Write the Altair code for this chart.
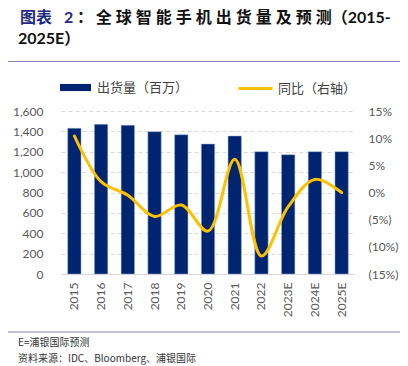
import altair as alt
import pandas as pd

# ---------------- data ----------------
years = ["2015", "2016", "2017", "2018", "2019", "2020", "2021", "2022", "2023E", "2024E", "2025E"]
shipments = [1430, 1469, 1460, 1397, 1367, 1276, 1355, 1201, 1171, 1201, 1201]   # 百万部
yoy = [10.4, 2.0, -0.5, -4.4, -2.3, -7.1, 6.1, -11.7, -2.6, 2.4, 0.0]           # %
left_ticks = [0, 200, 400, 600, 800, 1000, 1200, 1400, 1600]
right_ticks = [-15, -10, -5, 0, 5, 10, 15]

bar_name = "出货量（百万）"
line_name = "同比（右轴）"
title_a = "图表\u20032"
title_b = "：\u2006全\u2005球\u2005智\u2005能\u2005手\u2005机\u2005出\u2005货\u2005量\u2005及\u2005预\u2005测（2015-"
title_c = "2025E）"
note1 = "E=浦银国际预测"
note2 = "资料来源：IDC、Bloomberg、浦银国际"

df = pd.DataFrame({"year": years, "shipments": shipments, "yoy": yoy,
                   "bar": bar_name, "line": line_name})

NAVY = "#002570"
GOLD = "#FFC000"
GRAY = "#595959"
LATIN = "Lato, Noto Sans CJK SC"
CJK = "Noto Sans CJK SC"

W, H = 294, 163

xenc = alt.X("year:N", sort=years, title=None,
             scale=alt.Scale(paddingInner=0.5, paddingOuter=0.25),
             axis=alt.Axis(labelAngle=-90, labelFont=LATIN, labelFontSize=12,
                           labelColor=GRAY, ticks=False, domainColor="#D9D9D9",
                           domainWidth=1, labelPadding=8, grid=False))

bars = alt.Chart(df).mark_bar(stroke="#9FB0D8", strokeWidth=0.5).encode(
    x=xenc,
    y=alt.Y("shipments:Q", title=None,
            scale=alt.Scale(domain=[0, 1600], nice=False),
            axis=alt.Axis(values=left_ticks, labelExpr="format(datum.value, ',')",
                          grid=True, gridDash=[4, 3], gridColor="#D9D9D9",
                          domain=False, ticks=False, labelPadding=18,
                          labelFont=LATIN, labelFontSize=12, labelColor=GRAY)),
    color=alt.Color("bar:N", scale=alt.Scale(domain=[bar_name], range=[NAVY]),
                    legend=alt.Legend(orient="none", legendX=-1, legendY=-39,
                                      title=None, padding=0,
                                      symbolType="M-1,-0.23L1,-0.23L1,0.23L-1,0.23Z",
                                      symbolSize=961, symbolStrokeWidth=0,
                                      labelFont=CJK, labelFontSize=13,
                                      labelColor="#404040", labelOffset=6)),
)

line = alt.Chart(df).mark_line(interpolate="catmull-rom", strokeWidth=3,
                               strokeCap="round").encode(
    x=alt.X("year:N", sort=years),
    y=alt.Y("yoy:Q", title=None,
            scale=alt.Scale(domain=[-15, 15], nice=False),
            axis=alt.Axis(orient="right", values=right_ticks,
                          labelExpr="datum.value < 0 ? '(' + (-datum.value) + '%)' : datum.value + '%'",
                          grid=False, domain=False, ticks=False, labelPadding=13,
                          labelFont=LATIN, labelFontSize=12, labelColor=GRAY)),
    stroke=alt.Stroke("line:N", scale=alt.Scale(domain=[line_name], range=[GOLD]),
                      legend=alt.Legend(orient="none", legendX=176, legendY=-41,
                                        title=None, padding=0,
                                        symbolType="stroke", symbolSize=1156,
                                        symbolStrokeWidth=3,
                                        labelFont=CJK, labelFontSize=13,
                                        labelColor="#404040", labelOffset=4)),
)

one = alt.Data(values=[{}])

def txt(s, x, y, size, color, weight="normal", font=CJK):
    return alt.Chart(one).mark_text(text=s, align="left", baseline="middle",
                                    fontSize=size, font=font, fontWeight=weight,
                                    color=color).encode(x=alt.value(x), y=alt.value(y))

def hline(y):
    return alt.Chart(one).mark_rule(color="#8585B5", strokeWidth=1.2).encode(
        x=alt.value(-53), x2=alt.value(344), y=alt.value(y))

deco = [
    txt(title_a, -41, -93, 16, "#1F2A80", "bold", LATIN),
    txt(title_b, 16, -93, 16, "#111111", "bold", LATIN),
    txt(title_c, -43, -72, 16, "#111111", "bold", LATIN),
    hline(-49.5),
    hline(221),
    txt(note1, -43, 232, 10, "#333333"),
    txt(note2, -43, 248, 10, "#333333"),
]

chart = alt.layer(bars, line, *deco).resolve_scale(
    y="independent", color="independent", stroke="independent"
).properties(
    width=W, height=H,
    autosize=alt.AutoSizeParams(type="none"),
    padding={"left": 53, "top": 103, "right": 45, "bottom": 92},
).configure_view(stroke=None)

chart.save("out.html", embed_options={"renderer": "svg", "actions": False})
